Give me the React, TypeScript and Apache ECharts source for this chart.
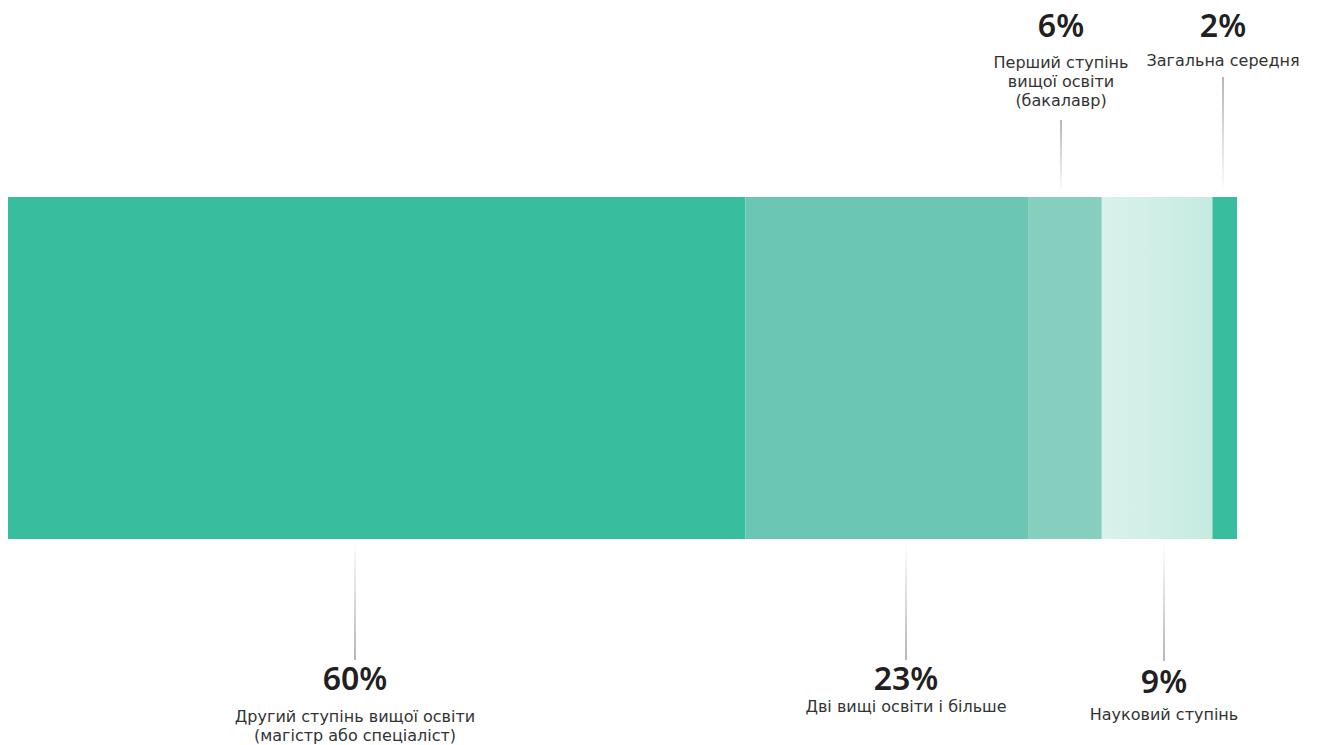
import React, { useEffect, useRef } from "react";
import * as echarts from "echarts";

// ---- data ----
const categories = [
  "Другий ступінь вищої освіти\n(магістр або спеціаліст)",
  "Дві вищі освіти і більше",
  "Перший ступінь\nвищої освіти\n(бакалавр)",
  "Науковий ступінь",
  "Загальна середня",
];
const values = [60, 23, 6, 9, 2];
// where each leader line meets the bar, in the bar's own % units
const labelAnchors = [28.2, 73.1, 85.7, 94.1, 98.9];
const labelSides = ["bottom", "bottom", "top", "bottom", "top"];

// ---- layout / style (not data) ----
const colors: any[] = [
  "#38BE9E",
  "#6BC7B3",
  "#86CEBE",
  new echarts.graphic.LinearGradient(0, 0, 1, 0, [
    { offset: 0, color: "#DAF1EC" },
    { offset: 1, color: "#C5EBE1" },
  ]),
  "#38BE9E",
];
// per label index: [gap from bar, line length, pctCenter (abs y), descFirstLine centre (abs y)]
const layoutByIndex = [
  [0, 121, 677, 716],
  [4, 117, 677, 706],
  [4, 73, 24, 62],
  [4, 118, 680, 714],
  [4, 116, 24, 60],
];

const FONT = "'Noto Sans', 'Open Sans', sans-serif";
const DESC_FONT = "'DejaVu Sans', 'Noto Sans', sans-serif";

export default function App() {
  const ref = useRef<HTMLDivElement>(null);
  useEffect(() => {
    const chart = echarts.init(ref.current!, null, { renderer: "svg" });
    const barSeries = values.map((v, i) => ({
      type: "bar",
      stack: "total",
      name: categories[i],
      data: [v],
      barWidth: "100%",
      itemStyle: { color: colors[i] },
      silent: true,
    }));
    const labelData = labelAnchors.map((a, i) => [a, 0, i]);
    const option: any = {
      animation: false,
      grid: { left: 8, right: 85, top: 197, bottom: 206, containLabel: false },
      xAxis: { type: "value", min: 0, max: 100, show: false },
      yAxis: { type: "category", data: ["all"], show: false },
      series: [
        ...barSeries,
        {
          type: "custom",
          coordinateSystem: "cartesian2d",
          silent: true,
          z: 10,
          data: labelData,
          renderItem: (params: any, api: any) => {
            const idx = api.value(2);
            const x = Math.round(api.coord([api.value(0), 0])[0]);
            const cs = params.coordSys;
            const top = cs.y;
            const bottom = cs.y + cs.height;
            const side = labelSides[idx];
            const lay = layoutByIndex[idx];
            const gap = lay[0];
            const lineLen = lay[1];
            const children: any[] = [];
            if (side === "bottom") {
              children.push({
                type: "rect",
                shape: { x: x - 0.5, y: bottom + gap, width: 1, height: lineLen },
                style: {
                  fill: new echarts.graphic.LinearGradient(0, 0, 0, 1, [
                    { offset: 0, color: "#ffffff" },
                    { offset: 1, color: "#6d6d73" },
                  ]),
                },
              });
            } else {
              children.push({
                type: "rect",
                shape: { x: x - 0.5, y: top - gap - lineLen, width: 1, height: lineLen },
                style: {
                  fill: new echarts.graphic.LinearGradient(0, 0, 0, 1, [
                    { offset: 0, color: "#6d6d73" },
                    { offset: 1, color: "#ffffff" },
                  ]),
                },
              });
            }
            children.push({
              type: "text",
              x: x,
              y: lay[2],
              style: {
                text: values[idx] + "%",
                fontFamily: FONT,
                fontSize: 32,
                fontWeight: 600,
                fill: "#231F20",
                align: "center",
                verticalAlign: "middle",
              },
            });
            children.push({
              type: "text",
              x: x,
              y: lay[3] - 9.5,
              style: {
                text: categories[idx],
                fontFamily: DESC_FONT,
                fontSize: 16,
                lineHeight: 19,
                fill: "#333333",
                align: "center",
                verticalAlign: "top",
              },
            });
            return { type: "group", children };
          },
        },
      ],
    };
    chart.setOption(option);
    return () => chart.dispose();
  }, []);
  return (
    <div
      ref={ref}
      style={{ width: 1322, height: 745, position: "absolute", left: 0, top: 0 }}
    />
  );
}
